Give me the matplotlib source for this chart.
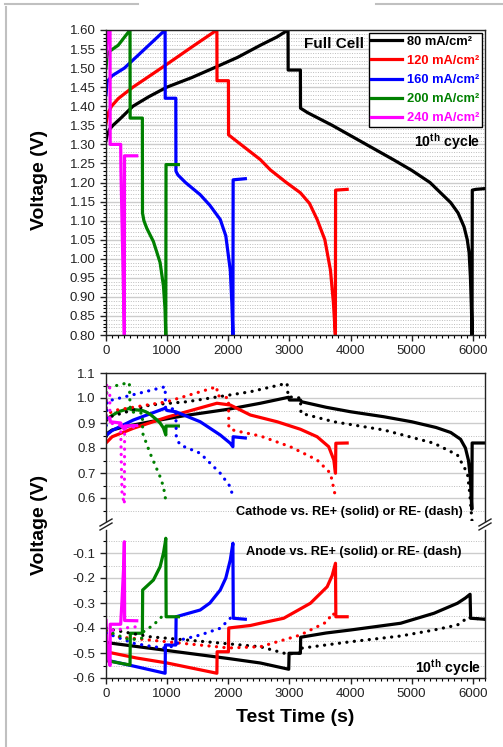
import matplotlib
matplotlib.use('Agg')
import matplotlib.pyplot as plt
from matplotlib.lines import Line2D
from matplotlib.ticker import MultipleLocator, FixedLocator

plt.rcParams['font.family'] = ['Liberation Sans', 'DejaVu Sans']
plt.rcParams['axes.unicode_minus'] = False
plt.rcParams['mathtext.fontset'] = 'custom'
plt.rcParams['mathtext.rm'] = 'Liberation Sans:bold'
plt.rcParams['mathtext.bf'] = 'Liberation Sans:bold'

# ---- data ----
labels = ['80 mA/cm²', '120 mA/cm²', '160 mA/cm²', '200 mA/cm²', '240 mA/cm²']
colors = ['black', '#ff0000', '#0000ff', '#008000', '#ff00ff']

# full cell voltage
t_full_80 = [0, 20, 60, 115, 250, 440, 700, 995, 1400, 1757, 2150, 2525, 2800, 2978, 2980, 3180, 3182, 3300, 3700,
             4200, 4700, 5000, 5300, 5640, 5760, 5857, 5910, 5940, 5962, 5978, 5988, 5992, 6050, 6200]
v_full_80 = [1.31, 1.325, 1.34, 1.35, 1.37, 1.40, 1.425, 1.45, 1.475, 1.50, 1.528, 1.56, 1.582, 1.60, 1.495, 1.495,
             1.395, 1.383, 1.35, 1.305, 1.26, 1.232, 1.20, 1.147, 1.12, 1.084, 1.05, 1.016, 0.95, 0.87, 0.80, 1.18,
             1.182, 1.184]
t_full_120 = [0, 30, 90, 200, 440, 700, 995, 1400, 1814, 1816, 2003, 2005, 2100, 2525, 2689, 2950, 3180, 3330, 3454,
              3580, 3672, 3720, 3752, 3756, 3945]
v_full_120 = [1.355, 1.38, 1.40, 1.42, 1.45, 1.478, 1.51, 1.555, 1.60, 1.467, 1.467, 1.325, 1.313, 1.26, 1.233, 1.20,
              1.173, 1.145, 1.103, 1.05, 0.97, 0.885, 0.80, 1.18, 1.182]
t_full_160 = [0, 20, 100, 300, 500, 700, 967, 969, 1142, 1144, 1175, 1300, 1541, 1700, 1869, 1960, 2033, 2060, 2076,
              2080, 2279]
v_full_160 = [1.43, 1.465, 1.48, 1.50, 1.53, 1.56, 1.60, 1.421, 1.421, 1.23, 1.22, 1.20, 1.168, 1.14, 1.103, 1.06,
              0.97, 0.88, 0.80, 1.207, 1.21]
t_full_200 = [0, 20, 66, 200, 393, 395, 595, 597, 620, 667, 776, 885, 940, 965, 978, 982, 1184]
v_full_200 = [1.50, 1.535, 1.545, 1.56, 1.60, 1.369, 1.369, 1.12, 1.10, 1.08, 1.045, 0.99, 0.928, 0.87, 0.80, 1.247,
              1.247]
t_full_240 = [0, 15, 40, 66, 68, 240, 245, 275, 300, 303, 503]
v_full_240 = [1.53, 1.57, 1.60, 1.60, 1.30, 1.30, 1.23, 1.00, 0.80, 1.27, 1.27]

# cathode vs RE+ (solid) and RE- (dotted)
t_cat_80 = [0, 30, 100, 300, 721, 1300, 2000, 2525, 2989, 3000, 3180, 3200, 3600, 4000, 4546, 5000, 5400, 5640, 5800,
            5880, 5930, 5960, 5975, 5984, 5990, 6200]
v_cat_80 = [0.845, 0.86, 0.872, 0.885, 0.905, 0.93, 0.955, 0.979, 1.003, 0.992, 0.992, 0.985, 0.963, 0.945, 0.925,
            0.905, 0.882, 0.862, 0.835, 0.80, 0.75, 0.68, 0.60, 0.555, 0.82, 0.82]
t_cat_80d = [0, 66, 721, 1322, 2361, 2962, 2980, 3180, 3190, 3727, 4546, 5366, 5749, 5912, 5950, 5990]
v_cat_80d = [0.91, 0.925, 0.972, 0.985, 1.025, 1.059, 1.005, 1.0, 0.939, 0.905, 0.872, 0.819, 0.772, 0.699, 0.62, 0.50]
t_cat_120 = [0, 100, 448, 995, 1814, 2033, 2361, 2800, 3180, 3454, 3644, 3727, 3754, 3760, 3945]
v_cat_120 = [0.82, 0.845, 0.879, 0.923, 0.979, 0.972, 0.932, 0.905, 0.875, 0.845, 0.805, 0.752, 0.699, 0.819, 0.82]
t_cat_120d = [0, 50, 175, 995, 1814, 1820, 2003, 2010, 2100, 2525, 3016, 3454, 3672, 3754]
v_cat_120d = [0.92, 0.94, 0.952, 0.985, 1.045, 1.01, 1.0, 0.88, 0.87, 0.848, 0.805, 0.752, 0.699, 0.605]
t_cat_160 = [0, 100, 448, 967, 1000, 1142, 1541, 1869, 2033, 2076, 2080, 2279]
v_cat_160 = [0.85, 0.87, 0.912, 0.959, 0.95, 0.945, 0.905, 0.852, 0.819, 0.805, 0.845, 0.84]
t_cat_160d = [0, 20, 66, 967, 975, 1142, 1150, 1213, 1541, 1869, 2033, 2076]
v_cat_160d = [0.86, 0.99, 0.99, 1.045, 0.96, 0.955, 0.84, 0.812, 0.779, 0.699, 0.645, 0.605]
t_cat_200 = [0, 66, 200, 393, 400, 595, 650, 721, 820, 885, 940, 978, 982, 1184]
v_cat_200 = [0.91, 0.925, 0.945, 0.959, 0.955, 0.95, 0.945, 0.935, 0.915, 0.90, 0.88, 0.852, 0.888, 0.888]
t_cat_200d = [0, 15, 100, 250, 382, 393, 400, 595, 600, 721, 885, 940, 978]
v_cat_200d = [0.93, 1.04, 1.045, 1.055, 1.061, 0.972, 0.945, 0.939, 0.859, 0.779, 0.685, 0.645, 0.59]
t_cat_240 = [0, 30, 66, 70, 240, 260, 300, 305, 503]
v_cat_240 = [0.93, 0.92, 0.915, 0.905, 0.90, 0.885, 0.875, 0.888, 0.89]
t_cat_240d = [0, 10, 60, 66, 240, 250, 262, 300, 305, 503]
v_cat_240d = [0.93, 1.05, 1.057, 0.90, 0.89, 0.75, 0.62, 0.575, 0.88, 0.885]

# anode vs RE+ (solid) and RE- (dotted)
t_an_80 = [0, 1000, 2000, 2525, 2989, 2995, 3180, 3185, 3600, 4000, 4820, 5366, 5749, 5880, 5956, 5965, 6200]
v_an_80 = [-0.458, -0.49, -0.522, -0.54, -0.565, -0.501, -0.501, -0.437, -0.42, -0.408, -0.381, -0.341, -0.301,
           -0.28, -0.265, -0.361, -0.365]
t_an_80d = [0, 120, 721, 1322, 2525, 2962, 3180, 3190, 4000, 4820, 5366, 5749, 5940, 5960, 6200]
v_an_80d = [-0.40, -0.408, -0.435, -0.448, -0.475, -0.504, -0.50, -0.481, -0.455, -0.432, -0.408, -0.388, -0.355,
            -0.36, -0.365]
t_an_120 = [0, 500, 1000, 1814, 1818, 2003, 2008, 2361, 2525, 2907, 3344, 3618, 3700, 3754, 3760, 3945]
v_an_120 = [-0.495, -0.52, -0.54, -0.581, -0.495, -0.495, -0.40, -0.39, -0.381, -0.361, -0.301, -0.235, -0.19,
            -0.141, -0.355, -0.355]
t_an_120d = [0, 175, 995, 1814, 2003, 2525, 3180, 3618, 3700, 3754]
v_an_120d = [-0.41, -0.435, -0.455, -0.475, -0.48, -0.475, -0.428, -0.375, -0.34, -0.35]
t_an_160 = [0, 500, 967, 972, 1142, 1147, 1541, 1700, 1869, 1960, 2033, 2076, 2082, 2279]
v_an_160 = [-0.528, -0.555, -0.581, -0.468, -0.468, -0.355, -0.328, -0.30, -0.248, -0.20, -0.128, -0.061, -0.361,
            -0.365]
t_an_160d = [0, 448, 776, 967, 1142, 1213, 1541, 1869, 2033, 2076]
v_an_160d = [-0.42, -0.461, -0.475, -0.48, -0.47, -0.448, -0.428, -0.401, -0.361, -0.34]
t_an_200 = [0, 393, 398, 595, 600, 776, 885, 940, 967, 978, 984, 1184]
v_an_200 = [-0.53, -0.548, -0.421, -0.421, -0.248, -0.208, -0.155, -0.10, -0.061, -0.041, -0.355, -0.355]
t_an_200d = [0, 200, 393, 595, 612, 776, 940, 978]
v_an_200d = [-0.41, -0.43, -0.448, -0.44, -0.415, -0.388, -0.348, -0.335]
t_an_240 = [0, 20, 66, 70, 240, 260, 290, 300, 305, 503]
v_an_240 = [-0.37, -0.50, -0.55, -0.385, -0.385, -0.30, -0.15, -0.055, -0.37, -0.371]
t_an_240d = [0, 66, 240, 300, 503]
v_an_240d = [-0.40, -0.41, -0.405, -0.40, -0.395]

full = [(t_full_80, v_full_80), (t_full_120, v_full_120), (t_full_160, v_full_160),
        (t_full_200, v_full_200), (t_full_240, v_full_240)]
cat_solid = [(t_cat_80, v_cat_80), (t_cat_120, v_cat_120), (t_cat_160, v_cat_160),
             (t_cat_200, v_cat_200), (t_cat_240, v_cat_240)]
cat_dot = [(t_cat_80d, v_cat_80d), (t_cat_120d, v_cat_120d), (t_cat_160d, v_cat_160d),
           (t_cat_200d, v_cat_200d), (t_cat_240d, v_cat_240d)]
an_solid = [(t_an_80, v_an_80), (t_an_120, v_an_120), (t_an_160, v_an_160),
            (t_an_200, v_an_200), (t_an_240, v_an_240)]
an_dot = [(t_an_80d, v_an_80d), (t_an_120d, v_an_120d), (t_an_160d, v_an_160d),
          (t_an_200d, v_an_200d), (t_an_240d, v_an_240d)]

W, H = 503, 747
fig = plt.figure(figsize=(W / 100, H / 100), dpi=100)


def box(l, t, r, b):
    return [l / W, 1 - b / H, (r - l) / W, (b - t) / H]


def px(x, y):
    return x / W, 1 - y / H


ax_full = fig.add_axes(box(106, 30, 485, 335))
ax_cat = fig.add_axes(box(106, 373, 485, 521))
ax_an = fig.add_axes(box(106, 530, 485, 678))

LW = 2.3
DOT = (0, (0.05, 2.3))

for (t, v), c, lab in zip(full, colors, labels):
    ax_full.plot(t, v, color=c, lw=LW, label=lab, solid_joinstyle='round')

for (t, v), c in zip(cat_solid, colors):
    ax_cat.plot(t, v, color=c, lw=LW)
for (t, v), c in zip(cat_dot, colors):
    ax_cat.plot(t, v, color=c, lw=LW, linestyle=DOT, dash_capstyle='round')
for (t, v), c in zip(an_solid, colors):
    ax_an.plot(t, v, color=c, lw=LW)
for (t, v), c in zip(an_dot, colors):
    ax_an.plot(t, v, color=c, lw=LW, linestyle=DOT, dash_capstyle='round')

# axes styling
for ax in (ax_full, ax_cat, ax_an):
    ax.set_xlim(0, 6200)
    ax.xaxis.set_major_locator(MultipleLocator(1000))
    ax.xaxis.set_minor_locator(MultipleLocator(100))
    ax.tick_params(which='major', direction='out', length=4, width=1, labelsize=9.5, colors='#222222',
                   top=False, right=False)
    ax.tick_params(which='minor', direction='out', length=2.5, width=0.8, top=False, right=False)
    for s in ax.spines.values():
        s.set_linewidth(1.0)
        s.set_color('#222222')
    ax.set_axisbelow(True)

ax_full.set_ylim(0.80, 1.60)
ax_full.yaxis.set_major_locator(MultipleLocator(0.05))
ax_full.yaxis.set_minor_locator(MultipleLocator(0.01))
ax_full.yaxis.set_major_formatter(plt.FormatStrFormatter('%.2f'))
ax_full.tick_params(axis='y', which='minor', length=2)
ax_full.grid(axis='y', which='major', color='#cccccc', lw=1.0)
ax_full.grid(axis='y', which='minor', color='#bdbdbd', lw=0.7, linestyle=(0, (1, 1.5)))

ax_cat.set_ylim(0.508, 1.1)
ax_cat.yaxis.set_major_locator(FixedLocator([0.6, 0.7, 0.8, 0.9, 1.0, 1.1]))
ax_cat.yaxis.set_minor_locator(FixedLocator([0.55, 0.65, 0.75, 0.85, 0.95, 1.05]))
ax_cat.yaxis.set_major_formatter(plt.FormatStrFormatter('%.1f'))
ax_cat.spines['bottom'].set_visible(False)
ax_cat.tick_params(axis='x', which='both', bottom=False, labelbottom=False)

ax_an.set_ylim(-0.6, -0.008)
ax_an.yaxis.set_major_locator(FixedLocator([-0.6, -0.5, -0.4, -0.3, -0.2, -0.1]))
ax_an.yaxis.set_minor_locator(FixedLocator([-0.55, -0.45, -0.35, -0.25, -0.15, -0.05]))
ax_an.yaxis.set_major_formatter(plt.FormatStrFormatter('%.1f'))
ax_an.spines['top'].set_visible(False)

for ax in (ax_cat, ax_an):
    ax.grid(axis='y', which='major', color='#cccccc', lw=1.0)
    ax.grid(axis='y', which='minor', color='#bdbdbd', lw=0.7, linestyle=(0, (1, 1.5)))

# legend
leg = ax_full.legend(loc='upper right', frameon=True, fancybox=False, edgecolor='black', framealpha=1,
                     borderaxespad=0.25, handlelength=2.4, handletextpad=0.35, labelspacing=0.55,
                     borderpad=0.2, prop={'weight': 'bold', 'size': 9.3}, labelcolor='linecolor')
leg.get_frame().set_linewidth(1.0)

# annotations
fig.text(*px(364, 44), 'Full Cell', ha='right', va='center', fontsize=11, fontweight='bold')
fig.text(*px(480, 142), r'10$^{\mathrm{th}}$ cycle', ha='right', va='center', fontsize=10.2, fontweight='bold')
fig.text(*px(463, 512), 'Cathode vs. RE+ (solid) or RE- (dash)', ha='right', va='center', fontsize=9.2,
         fontweight='bold')
fig.text(*px(462, 552), 'Anode vs. RE+ (solid) or RE- (dash)', ha='right', va='center', fontsize=9.2,
         fontweight='bold')
fig.text(*px(481, 668), r'10$^{\mathrm{th}}$ cycle', ha='right', va='center', fontsize=10.2, fontweight='bold')

fig.text(*px(40, 180), 'Voltage (V)', rotation=90, ha='center', va='center', fontsize=14, fontweight='bold')
fig.text(*px(40, 525), 'Voltage (V)', rotation=90, ha='center', va='center', fontsize=14, fontweight='bold')
fig.text(*px(295, 718), 'Test Time (s)', ha='center', va='center', fontsize=14, fontweight='bold')

# axis break marks
for xb in (106, 485):
    for dy in (-4, 0):
        x0, y0 = px(xb - 6, 530 + dy)
        x1, y1 = px(xb + 6, 523 + dy)
        fig.add_artist(Line2D([x0, x1], [y0, y1], color='#222222', lw=1.0))

# light frame lines of the screenshot
for (xa, ya, xb, yb) in [(6, 7, 6, 747), (5, 4, 138, 4), (376, 4, 503, 4)]:
    x0, y0 = px(xa, ya)
    x1, y1 = px(xb, yb)
    fig.add_artist(Line2D([x0, x1], [y0, y1], color='#c0c0c0', lw=1.5))

fig.savefig('out.png', dpi=100)
